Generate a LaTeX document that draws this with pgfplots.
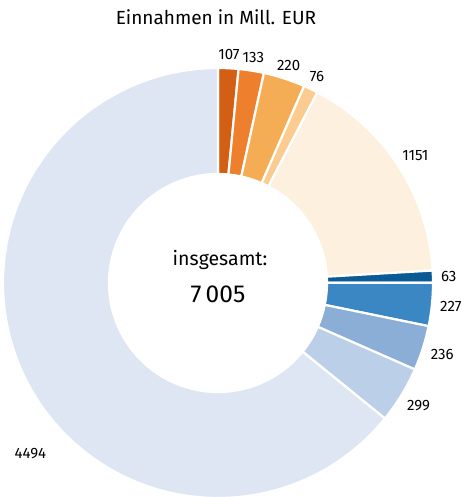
\documentclass[border=0pt]{standalone}
\usepackage{pgfplots}
\usepackage{pgfplotstable}
\pgfplotsset{compat=1.18}
\usepackage{fontspec}
\setmainfont{Fira Sans}
\definecolor{c0}{RGB}{210,95,20}
\definecolor{c1}{RGB}{238,128,45}
\definecolor{c2}{RGB}{245,173,85}
\definecolor{c3}{RGB}{251,203,143}
\definecolor{c4}{RGB}{253,240,222}
\definecolor{c5}{RGB}{10,90,150}
\definecolor{c6}{RGB}{58,135,196}
\definecolor{c7}{RGB}{139,174,214}
\definecolor{c8}{RGB}{188,207,232}
\definecolor{c9}{RGB}{222,230,243}
\pgfplotstableread{
val col
107 c0
133 c1
220 c2
76 c3
1151 c4
63 c5
227 c6
236 c7
299 c8
4494 c9
}\datatable
\begin{document}
\begin{tikzpicture}
\begin{axis}[hide axis, x=1bp, y=1bp, xmin=-218, xmax=244, ymin=-214, ymax=283, clip=false]
\pgfplotsextra{%
  \begin{scope}[shift={(axis cs:0,0)}]%
  \gdef\tot{0}%
  \foreach \i in {0,...,9}{%
    \pgfplotstablegetelem{\i}{val}\of\datatable
    \pgfmathsetmacro{\t}{\tot+\pgfplotsretval}%
    \xdef\tot{\t}%
  }%
  \gdef\cum{0}%
  \foreach \i in {0,...,9}{%
    \pgfplotstablegetelem{\i}{val}\of\datatable
    \edef\v{\pgfplotsretval}%
    \pgfplotstablegetelem{\i}{col}\of\datatable
    \edef\c{\pgfplotsretval}%
    \pgfmathsetmacro{\a}{90-\cum/\tot*360}%
    \pgfmathsetmacro{\b}{90-(\cum+\v)/\tot*360}%
    \pgfmathsetmacro{\m}{(\a+\b)/2}%
    \fill[fill=\c, draw=white, line width=2.2bp]
      (\a:109bp) -- (\a:215bp) arc[start angle=\a, end angle=\b, radius=215bp]
      -- (\b:109bp) arc[start angle=\b, end angle=\a, radius=109bp] -- cycle;
    \ifnum\i=9
      \node[anchor=east, font=\fontsize{15bp}{17bp}\selectfont, inner sep=0pt] at (-135.2:242bp) {\v};
    \else
      \node[anchor=\m+180, font=\fontsize{15bp}{17bp}\selectfont, inner sep=2bp] at (\m:221bp) {\v};
    \fi
    \pgfmathsetmacro{\n}{\cum+\v}%
    \xdef\cum{\n}%
  }%
  \end{scope}%
}
\node[font=\fontsize{19bp}{21bp}\selectfont] at (axis cs:-2,266) {Einnahmen in Mill. EUR};
\node[font=\fontsize{19.5bp}{21bp}\selectfont] at (axis cs:2,23) {insgesamt:};
\node[font=\fontsize{24.5bp}{28bp}\selectfont] at (axis cs:0,-11) {7\,005};
\end{axis}
\pgfresetboundingbox
\path (current axis.south west) rectangle (current axis.north east);
\end{tikzpicture}
\end{document}
